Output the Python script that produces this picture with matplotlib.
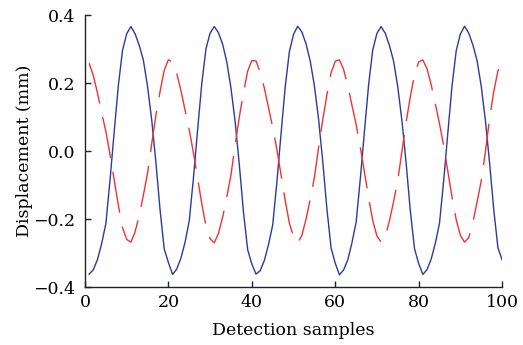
import numpy as np
import matplotlib
matplotlib.use('Agg')
import matplotlib.pyplot as plt

#Datos (muestras 1..100)
samples = np.arange(1, 101)

blue = [-0.362, -0.349, -0.319, -0.272, -0.214, -0.086, 0.056, 0.193, 0.296, 0.345,
        0.366, 0.345, 0.311, 0.267, 0.190, 0.091, -0.033, -0.173, -0.288, -0.328,
        -0.363, -0.347, -0.315, -0.268, -0.205, -0.080, 0.062, 0.198, 0.300, 0.347,
        0.366, 0.348, 0.314, 0.262, 0.185, 0.086, -0.040, -0.180, -0.290, -0.332,
        -0.362, -0.352, -0.322, -0.275, -0.218, -0.092, 0.050, 0.188, 0.292, 0.343,
        0.367, 0.350, 0.315, 0.265, 0.192, 0.094, -0.030, -0.170, -0.285, -0.330,
        -0.364, -0.350, -0.320, -0.270, -0.210, -0.083, 0.058, 0.195, 0.298, 0.346,
        0.366, 0.346, 0.310, 0.264, 0.188, 0.088, -0.036, -0.176, -0.287, -0.331,
        -0.363, -0.349, -0.318, -0.271, -0.212, -0.087, 0.054, 0.192, 0.295, 0.344,
        0.367, 0.347, 0.312, 0.266, 0.191, 0.090, -0.034, -0.172, -0.284, -0.320]

red = [0.258, 0.222, 0.170, 0.112, 0.058, -0.010, -0.085, -0.160, -0.225, -0.260,
       -0.268, -0.238, -0.190, -0.130, -0.065, 0.022, 0.105, 0.175, 0.238, 0.268,
       0.262, 0.228, 0.178, 0.120, 0.062, -0.005, -0.080, -0.155, -0.220, -0.258,
       -0.270, -0.242, -0.195, -0.135, -0.070, 0.018, 0.100, 0.172, 0.235, 0.266,
       0.265, 0.232, 0.185, 0.128, 0.070, 0.005, -0.070, -0.145, -0.212, -0.252,
       -0.270, -0.248, -0.200, -0.142, -0.078, 0.010, 0.092, 0.165, 0.230, 0.264,
       0.268, 0.240, 0.192, 0.135, 0.078, 0.012, -0.062, -0.138, -0.205, -0.250,
       -0.268, -0.252, -0.205, -0.148, -0.085, 0.000, 0.085, 0.160, 0.225, 0.262,
       0.268, 0.242, 0.195, 0.138, 0.080, 0.015, -0.060, -0.135, -0.202, -0.248,
       -0.268, -0.255, -0.210, -0.150, -0.088, -0.002, 0.095, 0.175, 0.235, 0.269]

xticks = [0, 20, 40, 60, 80, 100]
yticks = [-0.4, -0.2, 0.0, 0.2, 0.4]
ytick_labels = ['\u22120.4', '\u22120.2', '0.0', '0.2', '0.4']

plt.rcParams['font.family'] = ['DejaVu Serif']
plt.rcParams['font.size'] = 12.5

#Grafica
fig = plt.figure(figsize=(5.23, 3.45), dpi=100)
ax = fig.add_axes([0.1625, 0.168, 0.7975, 0.7885])

ax.plot(samples, blue, '-', color='#2b3a9c', lw=1.0)
ax.plot(samples, red, '--', color='#f03232', lw=1.0, dashes=(30, 10))

ax.set_xlim(0, 100)
ax.set_ylim(-0.4, 0.4)
ax.set_xticks(xticks)
ax.set_yticks(yticks)
ax.set_yticklabels(ytick_labels)
ax.tick_params(direction='in', length=4, width=1, colors='#222222', labelcolor='black')
ax.tick_params(axis='y', pad=7)
ax.tick_params(axis='x', pad=5)
for s in ['top', 'right']:
    ax.spines[s].set_visible(False)
for s in ['left', 'bottom']:
    ax.spines[s].set_linewidth(1)
    ax.spines[s].set_color('#222222')

ax.set_xlabel('Detection samples', labelpad=8)
ax.set_ylabel('Displacement (mm)', labelpad=0)

fig.savefig('out.png', dpi=100)
